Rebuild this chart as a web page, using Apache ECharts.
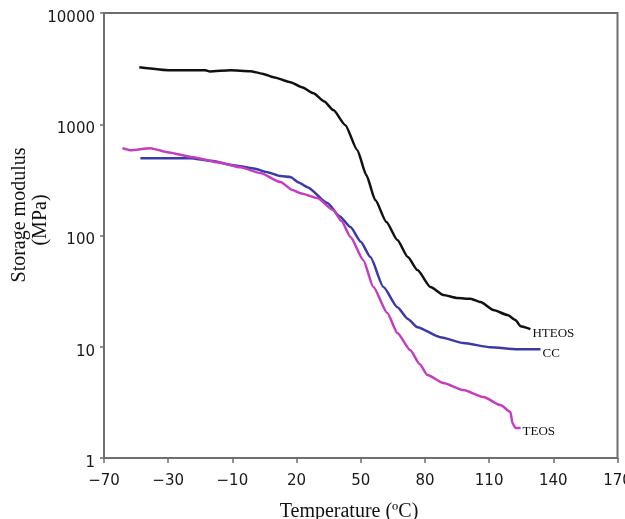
<!DOCTYPE html>
<html>
<head>
<meta charset="utf-8">
<title>Storage modulus vs temperature</title>
<script src="https://cdn.jsdelivr.net/npm/echarts@6/dist/echarts.min.js"></script>
<style>
  html, body { margin: 0; padding: 0; background: #fff; }
  #chart { width: 625px; height: 519px; }
</style>
</head>
<body>
<div id="chart"></div>
<script>
// Temperature (°C) and storage modulus (MPa) for each sample
const hteosT = [-53.5, -39.0, -30.0, -22.6, -20.5, -11.0, -1.6, 4.0, 9.2, 17.1, 22.5, 27.9, 33.0, 37.2, 42.8, 48.4, 52.6, 56.8, 62.0, 67.1, 72.0, 76.5, 82.6, 88.6, 95.2, 101.3, 106.0, 112.0, 118.6, 122.3, 124.7, 129.3];
const hteosE = [3260, 3060, 3060, 3060, 2980, 3060, 3000, 2850, 2650, 2390, 2150, 1900, 1600, 1340, 982, 585, 349, 208, 132, 91, 64, 48.9, 34.4, 29.2, 27.4, 27.0, 25.2, 21.4, 19.3, 17.4, 15.3, 14.4];

const ccT = [-53.0, -29.7, -20.0, -9.5, 0.0, 6.4, 12.5, 17.1, 21.0, 25.1, 34.4, 40.0, 45.2, 50.0, 54.5, 60.6, 67.1, 72.0, 76.5, 87.2, 98.0, 110.6, 123.2, 134.0];
const ccE = [496, 496, 470, 429, 400, 371, 342, 335, 300, 272, 196, 150, 119, 88, 64, 34.4, 22.7, 17.8, 15.0, 12.2, 10.8, 9.9, 9.5, 9.5];

const teosT = [-61.4, -57.7, -48.4, -40.4, -28.3, -17.0, -6.3, 3.1, 12.5, 18.1, 21.8, 29.7, 37.2, 41.0, 45.2, 51.2, 55.9, 62.4, 67.1, 73.2, 77.5, 81.2, 88.6, 98.0, 107.4, 115.3, 120.0, 120.9, 122.3, 124.7];
const teosE = [610, 585, 610, 561, 506, 456, 411, 364, 302, 256, 240, 217, 169, 135, 97, 60, 34.4, 20.1, 13.3, 9.3, 7.0, 5.57, 4.72, 4.08, 3.53, 2.99, 2.59, 2.06, 1.86, 1.86];

// Temperature axis ticks: positions and printed labels
const xTickValues = [-70, -40, -10, 20, 50, 80, 110, 140, 170];
const xTickLabels = ['\u221270', '\u221230', '\u221210', '20', '50', '80', '110', '140', '170'];
const yTickLabels = ['1', '10', '100', '1000', '10000'];

const zip = (xs, ys) => xs.map((x, i) => [x, ys[i]]);

const axisGray = '#6e6e6e';
const tickFont = { fontFamily: 'DejaVu Sans', fontSize: 15, color: '#1a1a1a' };
const serif = 'Liberation Serif';

function curve(name, color, xs, ys) {
  return {
    name: name,
    type: 'line',
    data: zip(xs, ys),
    showSymbol: false,
    smooth: 0.2,
    smoothMonotone: 'x',
    lineStyle: { color: color, width: 2.5 },
    itemStyle: { color: color },
    endLabel: {
      show: true,
      formatter: '{a}',
      distance: 2,
      offset: [0, 4],
      fontFamily: serif,
      fontSize: 13,
      color: '#111'
    },
    z: 3
  };
}

const chart = echarts.init(document.getElementById('chart'));
chart.setOption({
  animation: false,
  backgroundColor: '#fff',
  grid: {
    left: 104, right: 7.5, top: 13, bottom: 61,
    outerBoundsMode: 'none',
    containLabel: false,
    show: true,
    borderColor: axisGray,
    borderWidth: 2
  },
  xAxis: {
    type: 'value',
    min: -70,
    max: 170,
    splitLine: { show: false },
    axisLine: { show: true, onZero: false, lineStyle: { color: axisGray, width: 2 } },
    axisTick: { show: true, length: 5, inside: false, customValues: xTickValues, lineStyle: { color: axisGray, width: 1.5 } },
    axisLabel: {
      show: true,
      customValues: xTickValues,
      margin: 16,
      hideOverlap: false,
      formatter: (v) => xTickLabels[xTickValues.indexOf(v)],
      ...tickFont
    }
  },
  yAxis: {
    type: 'log',
    logBase: 10,
    min: 1,
    max: 10000,
    splitLine: { show: false },
    axisLine: { show: true, onZero: false, lineStyle: { color: axisGray, width: 2 } },
    axisTick: { show: true, length: 4, inside: false, lineStyle: { color: axisGray, width: 1.5 } },
    axisLabel: {
      margin: 9,
      verticalAlign: 'top',
      lineHeight: 10,
      formatter: (v) => yTickLabels[Math.round(Math.log10(v))],
      ...tickFont
    }
  },
  graphic: [
    {
      type: 'text',
      x: 349, y: 512,
      style: { text: 'Temperature (\u00baC)', font: '20px "Liberation Serif"', fill: '#111', align: 'center', verticalAlign: 'middle' }
    },
    {
      type: 'text',
      x: 20, y: 215, rotation: Math.PI / 2,
      style: { text: 'Storage modulus', font: '20px "Liberation Serif"', fill: '#111', align: 'center', verticalAlign: 'middle' }
    },
    {
      type: 'text',
      x: 41, y: 220, rotation: Math.PI / 2,
      style: { text: '(MPa)', font: '20px "Liberation Serif"', fill: '#111', align: 'center', verticalAlign: 'middle' }
    }
  ],
  series: [
    curve('HTEOS', '#111111', hteosT, hteosE),
    curve('CC', '#3a3aaa', ccT, ccE),
    curve('TEOS', '#c63cc0', teosT, teosE)
  ]
});
</script>
</body>
</html>
